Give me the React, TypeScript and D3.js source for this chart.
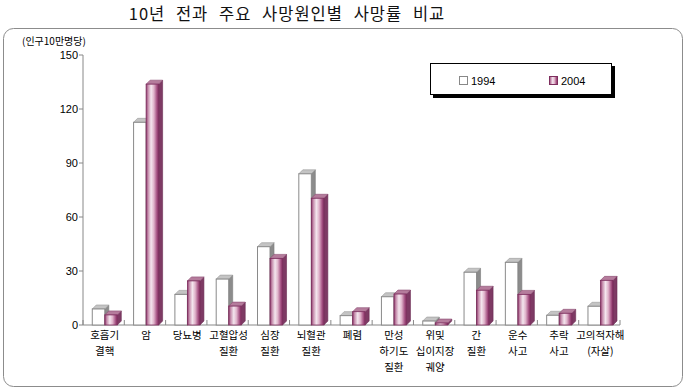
import React from 'react';
import * as d3 from 'd3';

// 사망원인 (줄바꿈 단위로 나눔)
const categories: string[][] = [
  ['호흡기', '결핵'],
  ['암'],
  ['당뇨병'],
  ['고혈압성', '질환'],
  ['심장', '질환'],
  ['뇌혈관', '질환'],
  ['폐렴'],
  ['만성', '하기도', '질환'],
  ['위및', '십이지장', '궤양'],
  ['간', '질환'],
  ['운수', '사고'],
  ['추락', '사고'],
  ['고의적자해', '(자살)'],
];
const series = ['1994', '2004'];
const values1994 = [8.9, 112.6, 17.0, 25.5, 43.5, 84.0, 5.2, 15.7, 2.2, 29.3, 34.8, 5.4, 10.4];
const values2004 = [5.6, 133.8, 24.5, 10.5, 37.0, 70.4, 7.4, 17.2, 1.1, 19.3, 17.0, 6.5, 24.8];
const yTicks = [0, 30, 60, 90, 120, 150];

const W = 686;
const H = 392;
const KR = '"Noto Sans CJK KR", "Noto Sans", sans-serif';
const LAT = '"Liberation Sans", Arial, sans-serif';

const DX = 4; // 3D depth
const DY = 4;

const App: React.FC = () => {
  const plot = { left: 83, right: 620, top: 55, bottom: 325 };

  const y = d3.scaleLinear().domain([0, 150]).range([plot.bottom, plot.top]);
  const x = d3
    .scaleBand<number>()
    .domain(d3.range(categories.length))
    .range([plot.left, plot.right])
    .padding(0);
  const xs = d3
    .scaleBand<string>()
    .domain(series)
    .range([0, x.bandwidth()])
    .paddingInner(0)
    .paddingOuter(0.65)
    .align(0.57);

  const bw = xs.bandwidth();
  const base = y(0);

  const bar = (key: string, i: number, v: number) => {
    const x0 = (x(i) as number) + (xs(key) as number);
    const y0 = y(v);
    const pink = key === '2004';
    const top = `${x0},${y0} ${x0 + DX},${y0 - DY} ${x0 + bw + DX},${y0 - DY} ${x0 + bw},${y0}`;
    const side = `${x0 + bw},${y0} ${x0 + bw + DX},${y0 - DY} ${x0 + bw + DX},${base - DY} ${x0 + bw},${base}`;
    return (
      <g key={key + i}>
        <polygon
          points={side}
          fill={pink ? '#7e3a64' : '#8c8c8c'}
          stroke={pink ? '#6a2c52' : '#7a7a7a'}
          strokeWidth={0.6}
        />
        <polygon
          points={top}
          fill={pink ? '#b57c9c' : '#c4c4c4'}
          stroke={pink ? '#8a4a70' : '#999'}
          strokeWidth={0.6}
        />
        <rect
          x={x0}
          y={y0}
          width={bw}
          height={base - y0}
          fill={pink ? 'url(#pinkGrad)' : '#fff'}
          stroke={pink ? '#7e2e5e' : '#8a8a8a'}
          strokeWidth={pink ? 0.8 : 1}
        />
      </g>
    );
  };

  return (
    <div style={{ position: 'absolute', left: 0, top: 0 }}>
      <svg width={W} height={H} style={{ display: 'block', background: '#fff' }}>
        <defs>
          <linearGradient id="pinkGrad" x1="0%" y1="0%" x2="100%" y2="0%">
            <stop offset="0%" stopColor="#8a3468" />
            <stop offset="15%" stopColor="#c48aaa" />
            <stop offset="40%" stopColor="#f4e6ee" />
            <stop offset="62%" stopColor="#e0b4cb" />
            <stop offset="85%" stopColor="#a85686" />
            <stop offset="100%" stopColor="#7e2a5c" />
          </linearGradient>
        </defs>

        <text
          x={287}
          y={20}
          textAnchor="middle"
          fontFamily={KR}
          fontSize={16.5}
          fill="#111"
          letterSpacing={1}
          wordSpacing={6}
        >
          10년 전과 주요 사망원인별 사망률 비교
        </text>

        <rect x={3.5} y={28.5} width={679} height={358} rx={10} fill="none" stroke="#8c8c8c" />

        <text x={22} y={45} fontFamily={KR} fontSize={10} fill="#000">
          (인구10만명당)
        </text>

        {/* y axis */}
        <line x1={plot.left} x2={plot.left} y1={plot.top} y2={plot.bottom} stroke="#888" />
        {yTicks.map((t) => (
          <g key={t}>
            <line x1={plot.left - 4} x2={plot.left} y1={y(t)} y2={y(t)} stroke="#888" />
            <text
              x={plot.left - 5}
              y={y(t) + 4}
              textAnchor="end"
              fontFamily={LAT}
              fontSize={11}
              fill="#000"
            >
              {t}
            </text>
          </g>
        ))}

        {/* x baseline */}
        <line x1={plot.left} x2={plot.right} y1={base} y2={base} stroke="#888" />
        {d3.range(categories.length + 1).map((i) => {
          const xx = i < categories.length ? (x(i) as number) : plot.right;
          return <line key={i} x1={xx} x2={xx} y1={base - 5} y2={base} stroke="#888" />;
        })}

        {/* bars */}
        {categories.map((_, i) => (
          <g key={i}>
            {bar('1994', i, values1994[i])}
            {bar('2004', i, values2004[i])}
          </g>
        ))}

        {/* category labels */}
        {categories.map((lines, i) => (
          <text
            key={i}
            x={(x(i) as number) + x.bandwidth() / 2 + 1}
            textAnchor="middle"
            fontFamily={KR}
            fontSize={10.5}
            fill="#000"
          >
            {lines.map((l, j) => (
              <tspan key={j} x={(x(i) as number) + x.bandwidth() / 2 + 1} y={339 + j * 16}>
                {l}
              </tspan>
            ))}
          </text>
        ))}

        {/* legend */}
        <rect x={433} y={66} width={182} height={32} fill="#000" />
        <rect x={430.5} y={63.5} width={181} height={31} fill="#fff" stroke="#000" />
        <rect x={459.5} y={76.5} width={8} height={8} fill="#fff" stroke="#888" />
        <text x={471} y={84.5} fontFamily={LAT} fontSize={11} fill="#000">
          1994
        </text>
        <rect x={549.5} y={76.5} width={8} height={8} fill="url(#pinkGrad)" stroke="#7e2e5e" />
        <text x={561} y={84.5} fontFamily={LAT} fontSize={11} fill="#000">
          2004
        </text>
      </svg>
    </div>
  );
};

export default App;
